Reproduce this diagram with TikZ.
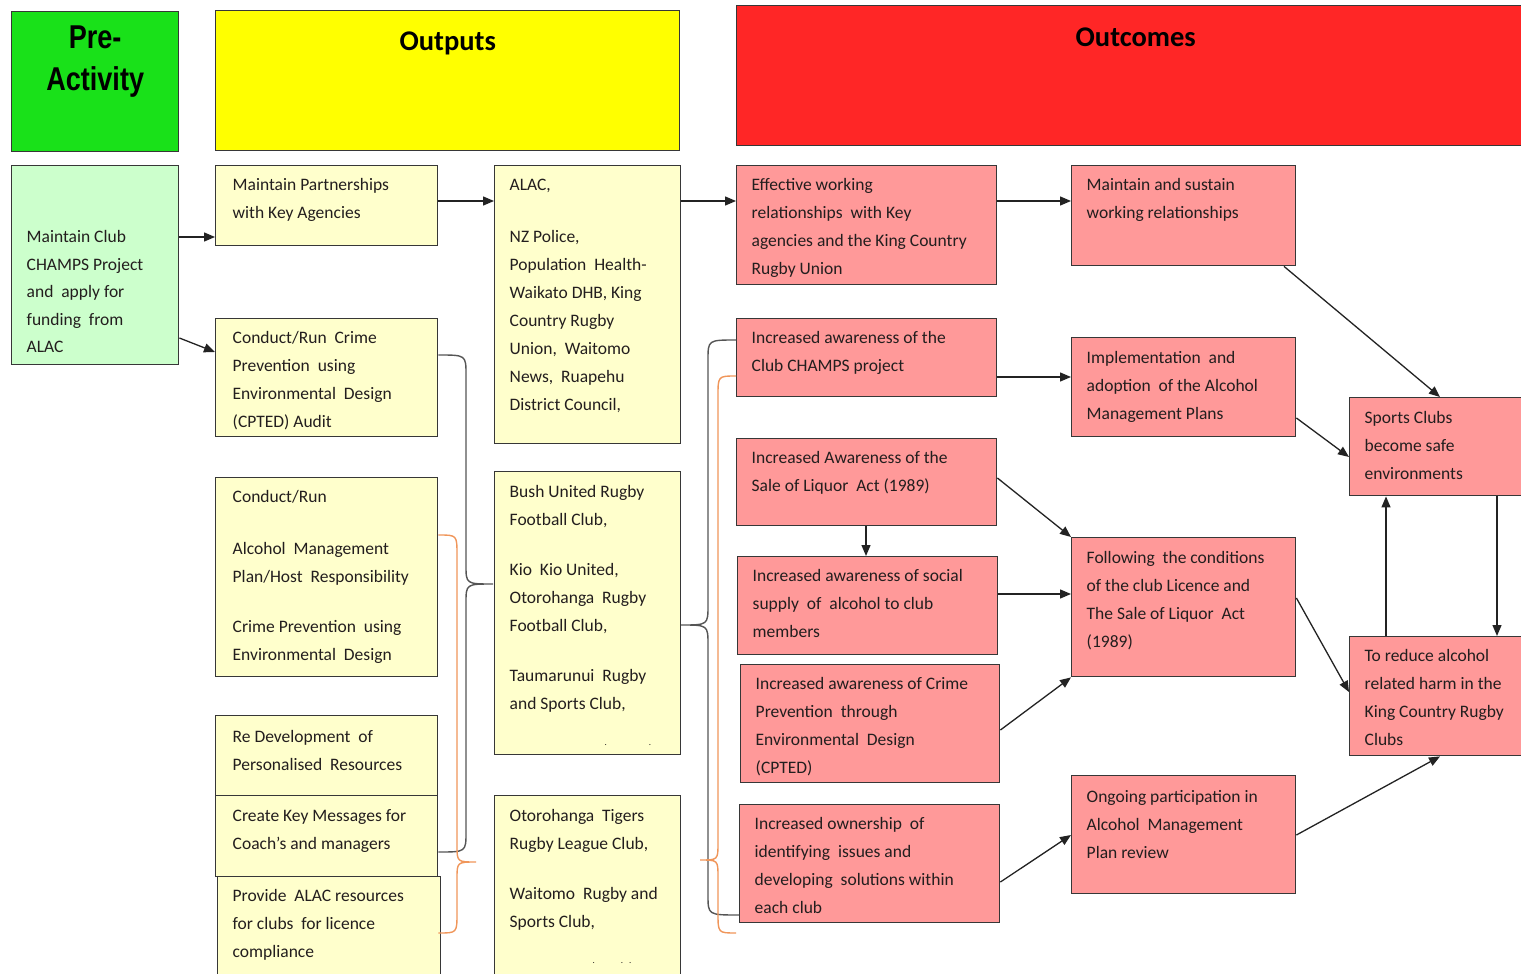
\documentclass[tikz,border=0pt]{standalone}
\usepackage{fontspec}
\usepackage{graphicx}
\setmainfont{Carlito}
\newfontfamily\hdrfont{Liberation Sans}
\usetikzlibrary{arrows.meta}
\definecolor{hgreen}{RGB}{25,225,25}
\definecolor{hyellow}{RGB}{255,255,0}
\definecolor{hred}{RGB}{255,38,38}
\definecolor{lgreen}{RGB}{204,255,204}
\definecolor{lyellow}{RGB}{255,255,204}
\definecolor{lpink}{RGB}{255,153,153}
\definecolor{edgeclr}{RGB}{55,55,55}
\definecolor{lineclr}{RGB}{35,35,35}
\definecolor{bgray}{RGB}{85,85,85}
\definecolor{borange}{RGB}{240,150,90}
\definecolor{txt}{RGB}{35,30,30}
% #1 leftskip, #2 width, #3 height, #4 first-baseline offset, #5 text
\newcommand\bt[5][15pt]{\parbox[c][#3pt][t]{#2pt}{\fontsize{17.5pt}{28pt}\selectfont\color{txt}\leftskip=#1\rightskip=0pt plus 1fil\parfillskip=0pt plus 1fil\rule{0pt}{#4pt}#5}}
\newcommand\hb[4]{\parbox[c][#2pt][t]{#1pt}{\centering\rule{0pt}{#3pt}#4}}
\tikzset{
  bx/.style={draw=edgeclr, line width=1.4pt, inner sep=0pt, anchor=north west},
  arr/.style={draw=lineclr, line width=1.3pt, -{Triangle[length=11pt,width=9pt]}},
  brg/.style={draw=bgray, line width=1.4pt},
  bro/.style={draw=borange, line width=1.4pt},
}
\begin{document}
\begin{tikzpicture}[x=1pt,y=-1pt]
\useasboundingbox (0,0) rectangle (1521,974);
\clip (0,0) rectangle (1521,974);
\fill[white] (0,0) rectangle (1521,974);
% headers
\node[bx, fill=hgreen] (pre) at (11,11) {\hb{167}{140}{37}{\fontsize{33pt}{42pt}\selectfont\hdrfont\bfseries\scalebox{0.82}[1]{Pre-}\\\scalebox{0.82}[1]{Activity}}};
\node[bx, fill=hyellow] (outputs) at (215,10) {\hb{464}{140}{40}{\fontsize{28.5pt}{34pt}\selectfont\bfseries Outputs}};
\node[bx, fill=hred] (outcomes) at (736,5) {\parbox[c][140pt][t]{800pt}{\rule{0pt}{41pt}\hspace*{339pt}\fontsize{28.5pt}{34pt}\selectfont\bfseries Outcomes}};
% pre-activity
\node[bx, fill=lgreen] (club) at (11,165) {\bt{167}{199}{77}{\baselineskip=27.5pt Maintain Club\\CHAMPS Project\\and \ apply for\\funding \ from\\ALAC}};
% outputs column 1
\node[bx, fill=lyellow] (part) at (215,165) {\bt[17pt]{222}{80}{25}{Maintain Partnerships\\with Key Agencies}};
\node[bx, fill=lyellow] (cpted) at (215,318) {\bt[17pt]{222}{118}{25}{Conduct/Run \ Crime\\Prevention \ using\\Environmental \ Design\\(CPTED) Audit}};
\node[bx, fill=lyellow] (amp) at (215,477) {\bt[17pt]{222}{199}{25}{Conduct/Run\\[24pt]Alcohol \ Management\\Plan/Host \ Responsibility\\[22pt]Crime Prevention \ using\\Environmental \ Design}};
\node[bx, fill=lyellow] (redev) at (215,715) {\bt[17pt]{222}{80}{27}{Re Development \ of\\Personalised \ Resources}};
\node[bx, fill=lyellow] (keymsg) at (215,795) {\bt[17pt]{222}{81}{26}{Create Key Messages for\\Coach’s and managers}};
\node[bx, fill=lyellow] (alacres) at (217,876) {\bt[15pt]{223}{110}{25}{Provide \ ALAC resources\\for clubs \ for licence\\compliance}};
% outputs column 2
\node[bx, fill=lyellow] (alac) at (494,165) {\bt{186}{278}{25}{ALAC,\\[24pt]NZ Police,\\Population \ Health-\\Waikato DHB, King\\Country Rugby\\Union, \ Waitomo\\News, \ Ruapehu\\District Council,}};
\node[bx, fill=lyellow] (bush) at (494,471) {\bt{186}{283}{26}{Bush United Rugby\\Football Club,\\[22pt]Kio \ Kio United,\\Otorohanga \ Rugby\\Football Club,\\[22pt]Taumarunui \ Rugby\\and Sports Club,\\[8pt]\hspace*{95pt}{\fontsize{9pt}{9pt}\selectfont.}\hspace{42pt}{\fontsize{9pt}{9pt}\selectfont.}}};
\node[bx, fill=lyellow] (tigers) at (494,795) {\bt{186}{190}{26}{Otorohanga \ Tigers\\Rugby League Club,\\[22pt]Waitomo \ Rugby and\\Sports Club,\\[8pt]\hspace*{83pt}{\fontsize{9pt}{9pt}\selectfont.}\hspace{26pt}{\fontsize{9pt}{9pt}\selectfont.}\hspace{6pt}{\fontsize{9pt}{9pt}\selectfont.}}};
% outcomes column 1
\node[bx, fill=lpink] (eff) at (736,165) {\bt{260}{119}{25}{Effective working\\relationships \ with Key\\agencies and the King Country\\Rugby Union}};
\node[bx, fill=lpink] (champs) at (736,318) {\bt{260}{78}{25}{Increased awareness of the\\Club CHAMPS project}};
\node[bx, fill=lpink] (sale) at (736,438) {\bt{260}{87}{25}{Increased Awareness of the\\Sale of Liquor \ Act (1989)}};
\node[bx, fill=lpink] (social) at (737,556) {\bt{260}{98}{25}{Increased awareness of social\\supply \ of \ alcohol to club\\members}};
\node[bx, fill=lpink] (crime) at (740,664) {\bt{259}{118}{25}{Increased awareness of Crime\\Prevention \ through\\Environmental \ Design\\(CPTED)}};
\node[bx, fill=lpink] (own) at (739,804) {\bt{260}{118}{25}{Increased ownership \ of\\identifying \ issues and\\developing \ solutions within\\each club}};
% outcomes column 2
\node[bx, fill=lpink] (sustain) at (1071,165) {\bt{224}{100}{25}{Maintain and sustain\\working relationships}};
\node[bx, fill=lpink] (impl) at (1071,337) {\bt{224}{99}{26}{Implementation \ and\\adoption \ of the Alcohol\\Management Plans}};
\node[bx, fill=lpink] (follow) at (1071,537) {\bt{224}{139}{26}{Following \ the conditions\\of the club Licence and\\The Sale of Liquor \ Act\\(1989)}};
\node[bx, fill=lpink] (ongoing) at (1071,775) {\bt{224}{118}{27}{Ongoing participation in\\Alcohol \ Management\\Plan review}};
% outcomes column 3
\node[bx, fill=lpink] (sports) at (1349,397) {\bt{200}{98}{26}{Sports Clubs\\become safe\\environments}};
\node[bx, fill=lpink] (reduce) at (1349,636) {\bt{200}{119}{25}{To reduce alcohol\\related harm in the\\King Country Rugby\\Clubs}};
% arrows
\draw[arr] (club.east |- 0,237) -- (part.west |- 0,237);
\draw[arr] (club.east |- 0,338) -- (cpted.west |- 0,352);
\draw[arr] (part.east |- 0,201) -- (alac.west |- 0,201);
\draw[arr] (alac.east |- 0,201) -- (eff.west |- 0,201);
\draw[arr] (eff.east |- 0,201) -- (sustain.west |- 0,201);
\draw[arr] (champs.east |- 0,377) -- (impl.west |- 0,377);
\draw[arr] (sustain.south -| 1284,0) -- (sports.north -| 1440,0);
\draw[arr] (impl.east |- 0,418) -- (sports.west |- 0,457);
\draw[arr] (sale.east |- 0,478) -- (follow.north west);
\draw[arr] (sale.south -| 866,0) -- (social.north -| 866,0);
\draw[arr] (social.east |- 0,594) -- (follow.west |- 0,594);
\draw[arr] (crime.east |- 0,730) -- (follow.south west);
\draw[arr] (own.east |- 0,882) -- (ongoing.west |- 0,835);
\draw[arr] (follow.east |- 0,598) -- (reduce.west |- 0,692);
\draw[arr] (ongoing.east |- 0,835) -- (reduce.south -| 1440,0);
\draw[arr] (reduce.north -| 1386,0) -- (sports.south -| 1386,0);
\draw[arr] (sports.south -| 1497,0) -- (reduce.north -| 1497,0);
% braces
\draw[brg] (cpted.east |- 0,355) .. controls (466,355) .. (466,375) -- (466,565) .. controls (466,584) .. (493,584) .. controls (466,584) .. (466,603) -- (466,832) .. controls (466,852) .. (keymsg.east |- 0,852);
\draw[bro] (amp.east |- 0,535) .. controls (457,535) .. (457,555) -- (457,845) .. controls (457,862) .. (476,862) .. controls (457,862) .. (457,879) -- (457,913) .. controls (457,933) .. (amp.east |- 0,933);
\draw[brg] (champs.west |- 0,340) .. controls (708,340) .. (708,360) -- (708,605) .. controls (708,625) .. (681,625) .. controls (708,625) .. (708,645) -- (708,895) .. controls (708,915) .. (own.west |- 0,915);
\draw[bro] (champs.west |- 0,376) .. controls (718,376) .. (718,396) -- (718,843) .. controls (718,860) .. (700,860) .. controls (718,860) .. (718,877) -- (718,913) .. controls (718,933) .. (champs.west |- 0,933);
\end{tikzpicture}
\end{document}
